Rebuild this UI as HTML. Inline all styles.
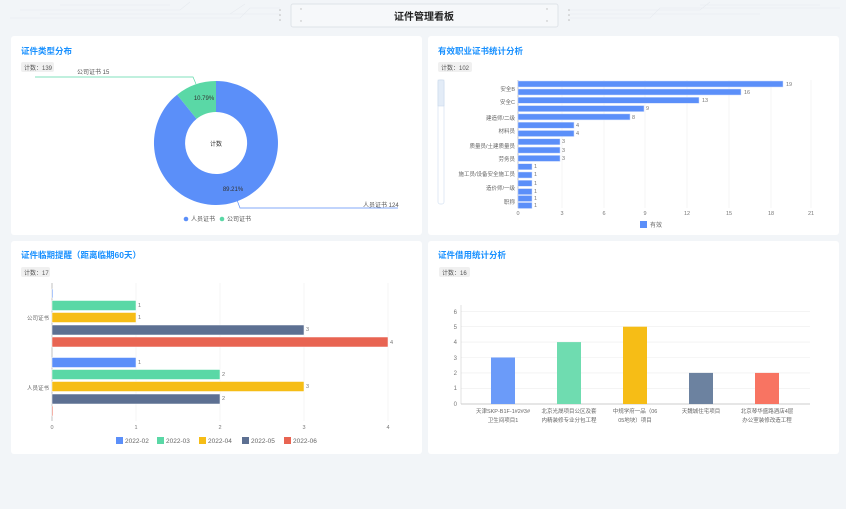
<!DOCTYPE html>
<html><head><meta charset="utf-8"><style>
body{margin:0;background:#f2f5f8;font-family:"Liberation Sans","Noto Sans CJK SC",sans-serif;}
svg text{font-family:"Liberation Sans","Noto Sans CJK SC",sans-serif;}
</style></head><body>
<svg width="846" height="504" viewBox="0 0 846 504" xmlns="http://www.w3.org/2000/svg">
<rect width="846" height="504" fill="#f2f5f8"/>
<!-- header -->
<g stroke="#e6eaef" fill="none" stroke-width="0.6">
<path d="M20 10 H180 L190 2 M40 14 H230 L245 4 M10 18 H240 L250 8 H280 M60 5 H170 M180 14 H280"/>
<path d="M570 10 H700 L710 2 M570 14 H760 M570 18 H650 L660 8 H840 M700 5 H820"/>
</g>
<rect x="291" y="4" width="267" height="23" rx="2" fill="#f6f8fa" stroke="#dfe3e8"/>
<text x="424" y="20" font-size="10" font-weight="bold" fill="#222" text-anchor="middle">证件管理看板</text>
<g fill="#bbb"><circle cx="301" cy="9" r="0.7"/><circle cx="301" cy="21" r="0.7"/><circle cx="547" cy="9" r="0.7"/><circle cx="547" cy="21" r="0.7"/><circle cx="280" cy="10" r="0.8"/><circle cx="280" cy="15" r="0.8"/><circle cx="280" cy="20" r="0.8"/><circle cx="569" cy="10" r="0.8"/><circle cx="569" cy="15" r="0.8"/><circle cx="569" cy="20" r="0.8"/></g>

<!-- panels -->
<rect x="11" y="36" width="411" height="199" rx="3" fill="#fff"/>
<rect x="428" y="36" width="411" height="199" rx="3" fill="#fff"/>
<rect x="11" y="241" width="411" height="213" rx="3" fill="#fff"/>
<rect x="428" y="241" width="411" height="213" rx="3" fill="#fff"/>

<!-- panel 1 -->
<text x="21" y="54" font-size="8.5" font-weight="bold" fill="#1890ff">证件类型分布</text>
<rect x="21" y="62" width="33" height="10" rx="2" fill="#f0f0f0"/>
<text x="24" y="70" font-size="6" fill="#555">计数：139</text>
<path d="M216 81 A62 62 0 1 1 177.1 94.7 L196.6 118.9 A31 31 0 1 0 216 112 Z" fill="#5b8ff9"/>
<path d="M177.1 94.7 A62 62 0 0 1 216 81 L216 112 A31 31 0 0 0 196.6 118.9 Z" fill="#5ad8a6"/>
<text x="216" y="146" font-size="6" fill="#333" text-anchor="middle">计数</text>
<text x="204" y="100" font-size="6" fill="#333" text-anchor="middle">10.79%</text>
<text x="233" y="191" font-size="6" fill="#333" text-anchor="middle">89.21%</text>
<polyline points="35,77 193,77 196,84" fill="none" stroke="#5ad8a6" stroke-width="0.7"/>
<text x="77" y="74" font-size="6" fill="#555">公司证书 15</text>
<polyline points="237,200 240,208 398,208" fill="none" stroke="#5b8ff9" stroke-width="0.7"/>
<text x="363" y="207" font-size="6" fill="#555">人员证书 124</text>
<circle cx="186" cy="219" r="2.3" fill="#5b8ff9"/><text x="191" y="221" font-size="6" fill="#555">人员证书</text>
<circle cx="222" cy="219" r="2.3" fill="#5ad8a6"/><text x="227" y="221" font-size="6" fill="#555">公司证书</text>

<!-- panel 2 -->
<text x="438" y="54" font-size="8.5" font-weight="bold" fill="#1890ff">有效职业证书统计分析</text>
<rect x="438" y="62" width="34" height="10" rx="2" fill="#f0f0f0"/>
<text x="441" y="70" font-size="6" fill="#555">计数：102</text>
<rect x="438" y="80" width="6" height="124" rx="2" fill="#fff" stroke="#d5e2f2" stroke-width="0.7"/>
<rect x="438" y="80" width="6" height="26" fill="#e3ecf7" stroke="#c4d4e8" stroke-width="0.5"/>
<g stroke="#eee" stroke-width="0.6">
<line x1="562" y1="80" x2="562" y2="208"/><line x1="604" y1="80" x2="604" y2="208"/><line x1="645" y1="80" x2="645" y2="208"/><line x1="687" y1="80" x2="687" y2="208"/><line x1="729" y1="80" x2="729" y2="208"/><line x1="771" y1="80" x2="771" y2="208"/><line x1="811" y1="80" x2="811" y2="208"/>
</g>
<line x1="518" y1="80" x2="518" y2="208" stroke="#999" stroke-width="0.6"/>
<g fill="#5b8ff9" stroke="#cfdcfb" stroke-width="0.5">
<rect x="518" y="81" width="265" height="6"/><rect x="518" y="89" width="223" height="6"/><rect x="518" y="97.3" width="181" height="6"/><rect x="518" y="105.6" width="126" height="6"/><rect x="518" y="113.9" width="112" height="6"/><rect x="518" y="122.2" width="56" height="6"/><rect x="518" y="130.5" width="56" height="6"/><rect x="518" y="138.8" width="42" height="6"/><rect x="518" y="147.1" width="42" height="6"/><rect x="518" y="155.4" width="42" height="6"/><rect x="518" y="163.7" width="14" height="6"/><rect x="518" y="172" width="14" height="6"/><rect x="518" y="180.3" width="14" height="6"/><rect x="518" y="188.6" width="14" height="6"/><rect x="518" y="195.5" width="14" height="6"/><rect x="518" y="202.5" width="14" height="6"/>
</g>
<g font-size="5.5" fill="#777">
<text x="786" y="86">19</text><text x="744" y="94">16</text><text x="702" y="102">13</text><text x="646" y="110">9</text><text x="632" y="119">8</text><text x="576" y="127">4</text><text x="576" y="135">4</text><text x="562" y="143">3</text><text x="562" y="152">3</text><text x="562" y="160">3</text>
<text x="534" y="168">1</text><text x="534" y="176">1</text><text x="534" y="185">1</text><text x="534" y="193">1</text><text x="534" y="200">1</text><text x="534" y="207">1</text>
</g>
<g font-size="5.5" fill="#666" text-anchor="end">
<text x="515" y="91">安全B</text><text x="515" y="104">安全C</text><text x="515" y="120">建造师/二级</text><text x="515" y="133">材料员</text><text x="515" y="148">质量员/土建质量员</text><text x="515" y="161">劳务员</text><text x="515" y="176">施工员/设备安全施工员</text><text x="515" y="190">造价师/一级</text><text x="515" y="204">职称</text>
</g>
<g font-size="5.5" fill="#777" text-anchor="middle">
<text x="518" y="215">0</text><text x="562" y="215">3</text><text x="604" y="215">6</text><text x="645" y="215">9</text><text x="687" y="215">12</text><text x="729" y="215">15</text><text x="771" y="215">18</text><text x="811" y="215">21</text>
</g>
<rect x="640" y="221" width="7" height="7" fill="#5b8ff9"/><text x="650" y="227" font-size="6" fill="#666">有效</text>

<!-- panel 3 -->
<text x="21" y="258" font-size="8.5" font-weight="bold" fill="#1890ff">证件临期提醒（距离临期60天）</text>
<rect x="21" y="267" width="29" height="10" rx="2" fill="#f0f0f0"/>
<text x="24" y="275" font-size="6" fill="#555">计数：17</text>
<g stroke="#eee" stroke-width="0.6"><line x1="136" y1="283" x2="136" y2="421"/><line x1="220" y1="283" x2="220" y2="421"/><line x1="304" y1="283" x2="304" y2="421"/><line x1="388" y1="283" x2="388" y2="421"/></g>
<line x1="52" y1="283" x2="52" y2="421" stroke="#999" stroke-width="0.6"/>
<g stroke="#fff" stroke-width="0.5">
<rect x="52" y="289" width="1" height="9" fill="#5b8ff9"/>
<rect x="52" y="300.5" width="84" height="10" fill="#5ad8a6"/>
<rect x="52" y="312.5" width="84" height="10" fill="#f6bd16"/>
<rect x="52" y="325" width="252" height="10" fill="#5d7092"/>
<rect x="52" y="337" width="336" height="10" fill="#e86452"/>
<rect x="52" y="357.5" width="84" height="10" fill="#5b8ff9"/>
<rect x="52" y="369.5" width="168" height="10" fill="#5ad8a6"/>
<rect x="52" y="381.5" width="252" height="10" fill="#f6bd16"/>
<rect x="52" y="394" width="168" height="10" fill="#5d7092"/>
<rect x="52" y="406" width="1" height="10" fill="#e86452"/>
</g>
<g font-size="5.5" fill="#777">
<text x="138" y="307">1</text><text x="138" y="319">1</text><text x="306" y="331">3</text><text x="390" y="344">4</text>
<text x="138" y="364">1</text><text x="222" y="376">2</text><text x="306" y="388">3</text><text x="222" y="400">2</text>
</g>
<g font-size="5.5" fill="#666" text-anchor="end"><text x="49" y="320">公司证书</text><text x="49" y="390">人员证书</text></g>
<g font-size="5.5" fill="#777" text-anchor="middle"><text x="52" y="429">0</text><text x="136" y="429">1</text><text x="220" y="429">2</text><text x="304" y="429">3</text><text x="388" y="429">4</text></g>
<g font-size="6.5" fill="#666">
<rect x="116" y="437" width="7" height="7" fill="#5b8ff9"/><text x="125" y="443">2022-02</text>
<rect x="157" y="437" width="7" height="7" fill="#5ad8a6"/><text x="166" y="443">2022-03</text>
<rect x="199" y="437" width="7" height="7" fill="#f6bd16"/><text x="208" y="443">2022-04</text>
<rect x="242" y="437" width="7" height="7" fill="#5d7092"/><text x="251" y="443">2022-05</text>
<rect x="284" y="437" width="7" height="7" fill="#e86452"/><text x="293" y="443">2022-06</text>
</g>

<!-- panel 4 -->
<text x="438" y="258" font-size="8.5" font-weight="bold" fill="#1890ff">证件借用统计分析</text>
<rect x="439" y="267" width="31" height="10" rx="2" fill="#f0f0f0"/>
<text x="442" y="275" font-size="6" fill="#555">计数：16</text>
<g stroke="#eee" stroke-width="0.6">
<line x1="461" y1="311.3" x2="810" y2="311.3"/><line x1="461" y1="326.7" x2="810" y2="326.7"/><line x1="461" y1="342.1" x2="810" y2="342.1"/><line x1="461" y1="357.5" x2="810" y2="357.5"/><line x1="461" y1="372.9" x2="810" y2="372.9"/><line x1="461" y1="388.3" x2="810" y2="388.3"/>
</g>
<line x1="461" y1="305" x2="461" y2="404" stroke="#ccc" stroke-width="0.6"/>
<line x1="461" y1="404" x2="810" y2="404" stroke="#ccc" stroke-width="1"/>
<rect x="491" y="357.5" width="24" height="46.5" fill="#6b9bf9"/>
<rect x="557" y="342.1" width="24" height="61.9" fill="#6fdcb0"/>
<rect x="623" y="326.7" width="24" height="77.3" fill="#f6bd16"/>
<rect x="689" y="372.9" width="24" height="31.1" fill="#6c82a0"/>
<rect x="755" y="372.9" width="24" height="31.1" fill="#f87462"/>
<g font-size="6" fill="#777" text-anchor="end">
<text x="457" y="314">6</text><text x="457" y="329">5</text><text x="457" y="344">4</text><text x="457" y="360">3</text><text x="457" y="375">2</text><text x="457" y="390">1</text><text x="457" y="406">0</text>
</g>
<g font-size="5.5" fill="#666" text-anchor="middle">
<text x="503" y="413">天津SKP-B1F-1#2#3#</text><text x="503" y="422">卫生间项目1</text>
<text x="569" y="413">北京光晟项目公区及套</text><text x="569" y="422">内精装修专业分包工程</text>
<text x="635" y="413">中规学府一品（06</text><text x="635" y="422">05地块）项目</text>
<text x="701" y="413">天魏城住宅项目</text>
<text x="767" y="413">北京琴华盛路酒店4层</text><text x="767" y="422">办公室装修改造工程</text>
</g>
</svg>
</body></html>
